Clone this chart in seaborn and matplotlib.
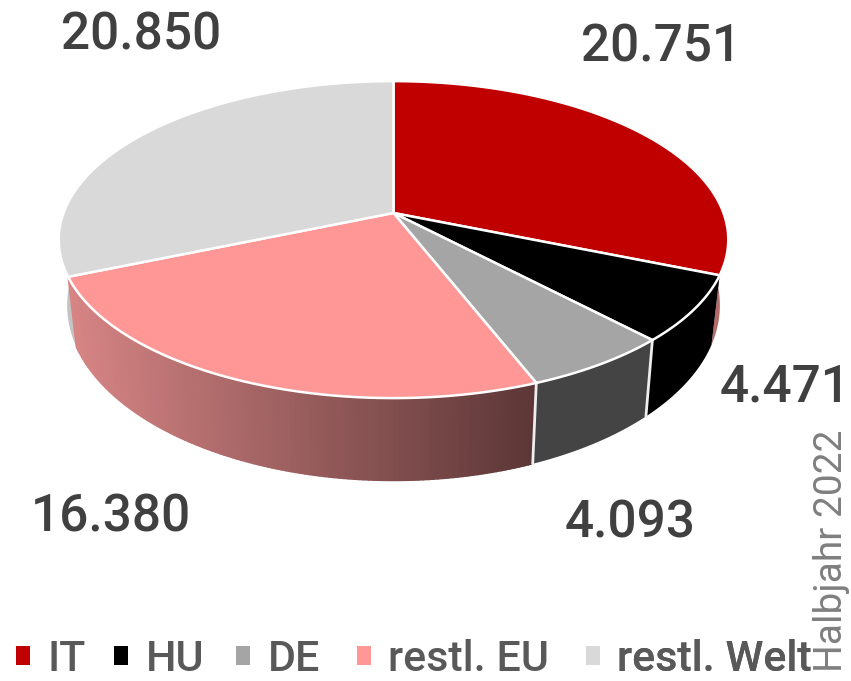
import numpy as np
import seaborn as sns
import matplotlib.pyplot as plt
from matplotlib.patches import Patch

# values from the chart, clockwise from 12 o'clock
countries = ["IT", "HU", "DE", "restl. EU", "restl. Welt"]
values = [20751, 4471, 4093, 16380, 20850]
top_colors = ["#C00000", "#000000", "#A5A5A5", "#FF9797", "#D9D9D9"]
wall_colors = ["#B56A6A", "#000000", "#444444", None, "#C4C4C4"]
label_pos = [(661, 48), (785, 388), (630, 523), (111, 518), (141, 35)]
legend_left = [16, 114, 236, 357, 586]

sns.set_theme(style="white")
plt.rcParams["font.family"] = ["Roboto", "DejaVu Sans"]

# perspective of the disc in pixels
cx, cy = 393.5, 213
rx, ry, persp = 330, 154, 0.168
drop, shrink_x, stretch_y = 63, 0.975, 1.105


def top_xy(t):
    u, v = np.sin(t), np.cos(t)
    w = 1 + persp * v
    return cx + rx * u / w, cy - ry * v / w


def bottom_xy(t):
    x, y = top_xy(t)
    return cx + (x - cx) * shrink_x, cy + drop + (y - cy) * stretch_y


fig = plt.figure(figsize=(8.51, 6.81), dpi=100)
ax = fig.add_axes([0, 0, 1, 1])

edges = np.cumsum([0] + values) / sum(values) * 2 * np.pi
ramp = sns.blend_palette(["#D68484", "#5C3636"], n_colors=120)

# side walls first, the top covers whatever lies behind
order = [4, 0, 1, 2, 3]
for i in order:
    if wall_colors[i] is None:
        # gradient wall, cut in thin strips
        ts = np.linspace(edges[i], edges[i + 1], 121)
        xt, yt = top_xy(ts)
        xb, yb = bottom_xy(ts)
        for k in range(len(ts) - 1):
            frac = (xt[k] - xt.min()) / (xt.max() - xt.min())
            col = ramp[min(int(frac * 119), 119)]
            ax.fill([xt[k], xt[k + 1], xb[k + 1], xb[k]],
                    [yt[k], yt[k + 1], yb[k + 1], yb[k]], facecolor=col,
                    edgecolor=col, lw=1.0, zorder=2)
    else:
        ts = np.linspace(edges[i], edges[i + 1], 240)
        xt, yt = top_xy(ts)
        xb, yb = bottom_xy(ts)
        ax.fill(np.r_[xt, xb[::-1]], np.r_[yt, yb[::-1]], color=wall_colors[i],
                lw=0, zorder=2)

# white seams on the front of the wall
for i in [2, 3]:
    x1, y1 = top_xy(edges[i])
    x2, y2 = bottom_xy(edges[i])
    ax.plot([x1, x2], [y1, y2], color="#EEEEEE", lw=2, zorder=3)

# top of the pie
for i, col in enumerate(top_colors):
    ts = np.linspace(edges[i], edges[i + 1], 240)
    xt, yt = top_xy(ts)
    ax.fill(np.r_[cx, xt], np.r_[cy, yt], facecolor=col, edgecolor="white",
            lw=1.8, joinstyle="round", zorder=4)

for val, (lx, ly) in zip(values, label_pos):
    ax.text(lx, ly, f"{val:,}".replace(",", "."), fontsize=37, color="#404040",
            fontweight="medium", ha="center", va="center", zorder=5)

# one legend per entry so each sits where it does in the original
for name, col, left in zip(countries, top_colors, legend_left):
    leg = ax.legend(handles=[Patch(facecolor=col, edgecolor="none", label=name)],
                    loc="lower left", bbox_to_anchor=(left / 851, 1 / 681), frameon=False,
                    labelcolor="#595959", handlelength=0.33, handleheight=0.33,
                    handletextpad=0.4, borderpad=0, borderaxespad=0,
                    prop={"family": "Roboto", "weight": "medium", "size": 31})
    ax.add_artist(leg)

ax.text(832, 672, "Halbjahr 2022", rotation=90, fontsize=28, color="#7F7F7F",
        ha="center", va="bottom", zorder=5)

ax.set_xlim(0, 851)
ax.set_ylim(681, 0)
ax.axis("off")

fig.savefig("out.png", dpi=100, facecolor="white")
